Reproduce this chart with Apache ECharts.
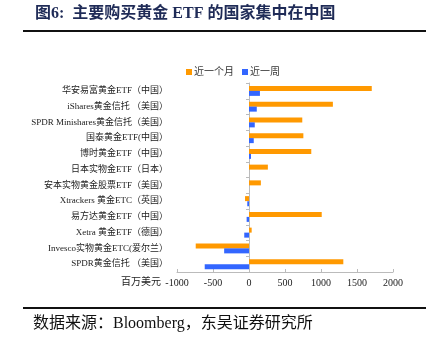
<!DOCTYPE html>
<html><head><meta charset="utf-8">
<script src="https://cdn.jsdelivr.net/npm/echarts@6/dist/echarts.min.js"></script>
<style>html,body{margin:0;padding:0;background:#fff}#c{width:432px;height:352px}</style>
</head><body><div id="c"></div>
<script>
const categories = ['华安易富黄金ETF（中国）','iShares黄金信托 （美国）','SPDR Minishares黄金信托（美国）','国泰黄金ETF(中国）','博时黄金ETF（中国）','日本实物金ETF（日本）','安本实物黄金股票ETF（美国）','Xtrackers 黄金ETC（英国）','易方达黄金ETF（中国）','Xetra 黄金ETF（德国）','Invesco实物黄金ETC(爱尔兰）','SPDR黄金信托 （美国）'];
const monthValues = [1705, 1165, 740, 755, 865, 262, 165, -55, 1010, 37, -740, 1310];
const weekValues = [152, 108, 80, 66, 28, 0, 0, -24, -33, -66, -345, -615];
const seriesNames = ['近一个月','近一周'];
const xTicks = {min:-1000, max:2000, interval:500};
const SERIF = '"Liberation Serif","Noto Sans CJK SC",serif';
const chart = echarts.init(document.getElementById('c'));
chart.setOption({
  animation:false,
  backgroundColor:'#fff',
  legend:{data:seriesNames, left:181, top:62, itemWidth:6, itemHeight:6, itemGap:8,
    icon:'rect', textStyle:{fontFamily:SERIF, fontSize:10, color:'#333', padding:[0,0,0,-3]}},
  grid:{left:177, right:39, top:83, bottom:80, containLabel:false, outerBoundsMode:'none'},
  xAxis:{type:'value', min:xTicks.min, max:xTicks.max, interval:xTicks.interval,
    axisLine:{show:true, lineStyle:{color:'#bbb'}}, axisTick:{show:true, inside:true, length:3, lineStyle:{color:'#bbb'}},
    splitLine:{show:false}, axisLabel:{fontFamily:SERIF, fontSize:10, color:'#222', margin:6, formatter:v=>String(v)}},
  yAxis:{type:'category', inverse:true, data:categories,
    axisLine:{onZero:true, lineStyle:{color:'#bbb'}}, axisTick:{show:true, length:3, lineStyle:{color:'#bbb'}},
    axisLabel:{fontFamily:SERIF, fontSize:9, color:'#222', margin:9}},
  series:[
    {name:seriesNames[0], type:'bar', data:monthValues, barWidth:5, barGap:'0%', itemStyle:{color:'#FF9900'}},
    {name:seriesNames[1], type:'bar', data:weekValues, barWidth:5, barGap:'0%', itemStyle:{color:'#3366FF'}}
  ],
  graphic:[
    {type:'text', left:35, top:6, style:{text:'图6:  主要购买黄金 ETF 的国家集中在中国', font:'bold 16px '+SERIF, fill:'#1F2B57'}},
    {type:'rect', shape:{x:23, y:30, width:403, height:2}, style:{fill:'#111'}},
    {type:'text', left:121, top:277, style:{text:'百万美元', font:'10px '+SERIF, fill:'#222'}},
    {type:'rect', shape:{x:23, y:307, width:403, height:2}, style:{fill:'#111'}},
    {type:'text', left:33, top:316, style:{text:'数据来源：Bloomberg，东吴证券研究所', font:'16px '+SERIF, fill:'#111'}}
  ]
});
</script></body></html>
